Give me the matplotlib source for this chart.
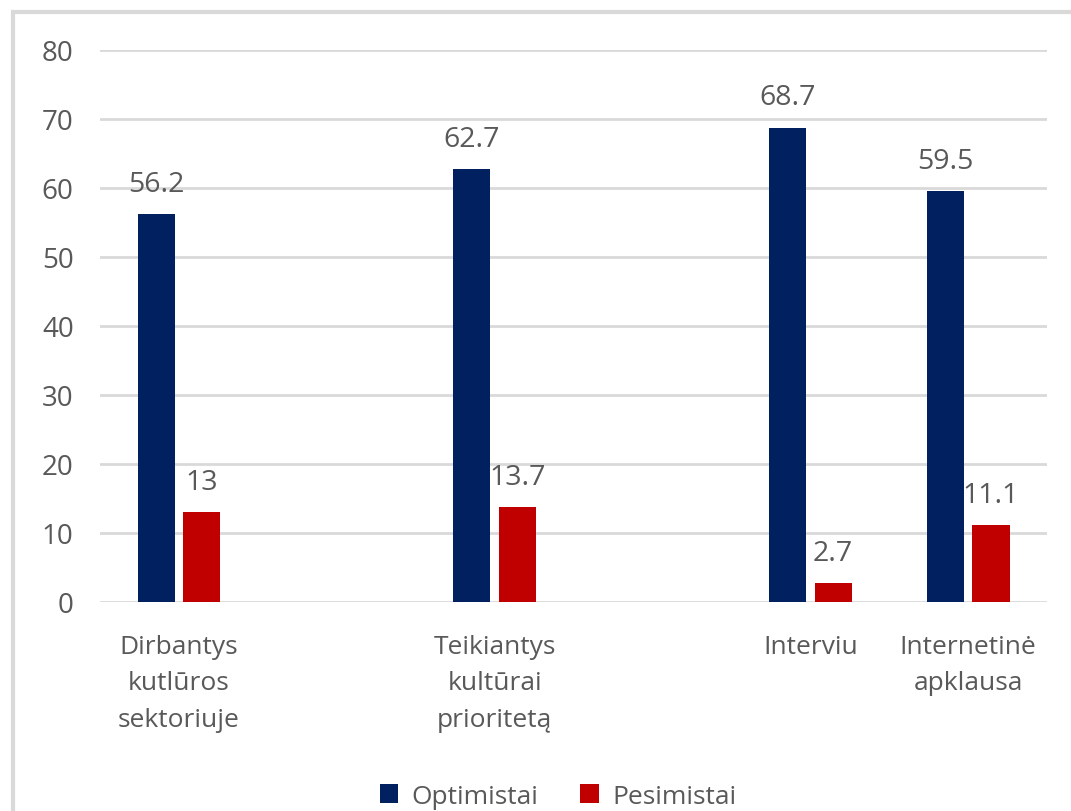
import numpy as np
import matplotlib.pyplot as plt
from matplotlib.patches import Rectangle

plt.rcParams['font.family'] = ['Open Sans', 'DejaVu Sans']

# chart data (empty slots kept as in the source sheet)
categories = ["Dirbantys\nkutlūros\nsektoriuje", "", "Teikiantys\nkultūrai\nprioritetą", "",
              "Interviu", "Internetinė\napklausa"]
optimistai = [56.2, np.nan, 62.7, np.nan, 68.7, 59.5]
pesimistai = [13, np.nan, 13.7, np.nan, 2.7, 11.1]
series_names = ["Optimistai", "Pesimistai"]

BLUE = "#002060"
RED = "#c00000"
TXT = "#595959"
GRID = "#d9d9d9"

fig = plt.figure(figsize=(10.71, 8.12), dpi=100)
ax = fig.add_axes([0.0934, 0.2574, 0.8842, 0.6798])

x = np.arange(len(categories))
w = 0.235
off = 0.145
b1 = ax.bar(x - off, optimistai, w, color=BLUE, label=series_names[0], zorder=3)
b2 = ax.bar(x + off, pesimistai, w, color=RED, label=series_names[1], zorder=3)

for bars, vals in ((b1, optimistai), (b2, pesimistai)):
    for bar, v in zip(bars, vals):
        if np.isnan(v):
            continue
        ax.annotate(f"{v:g}", xy=(bar.get_x() + bar.get_width() / 2, v),
                    xytext=(0, 17), textcoords="offset points",
                    ha="center", va="baseline", fontsize=20.5, color=TXT)

ax.set_xlim(-0.5, len(categories) - 0.5)
ax.set_ylim(0, 80)
ax.set_yticks(np.arange(0, 81, 10))
ax.yaxis.grid(True, color=GRID, linewidth=2, zorder=0)
ax.set_axisbelow(True)
for s in ax.spines.values():
    s.set_visible(False)
ax.tick_params(axis="y", length=0, pad=19, labelsize=20, labelcolor=TXT)
ax.tick_params(axis="x", length=0, pad=23, labelsize=19, labelcolor=TXT)
ax.set_xticks(x)
ax.set_xticklabels(categories, linespacing=1.6, va="top")

fig.legend(handles=[b1, b2], labels=series_names, loc="center",
           bbox_to_anchor=(0.521, 0.018), ncol=2, frameon=False,
           fontsize=19, labelcolor=TXT, handlelength=0.7, handleheight=0.7,
           handletextpad=0.5, columnspacing=1.6)

# chart frame border (left and top edges visible)
fig.patches.append(Rectangle((13 / 1071, -0.1), 1.2, 1 - 13 / 812 + 0.1,
                             transform=fig.transFigure, fill=False,
                             edgecolor=GRID, linewidth=3, zorder=0))

fig.savefig("out.png", dpi=100)
